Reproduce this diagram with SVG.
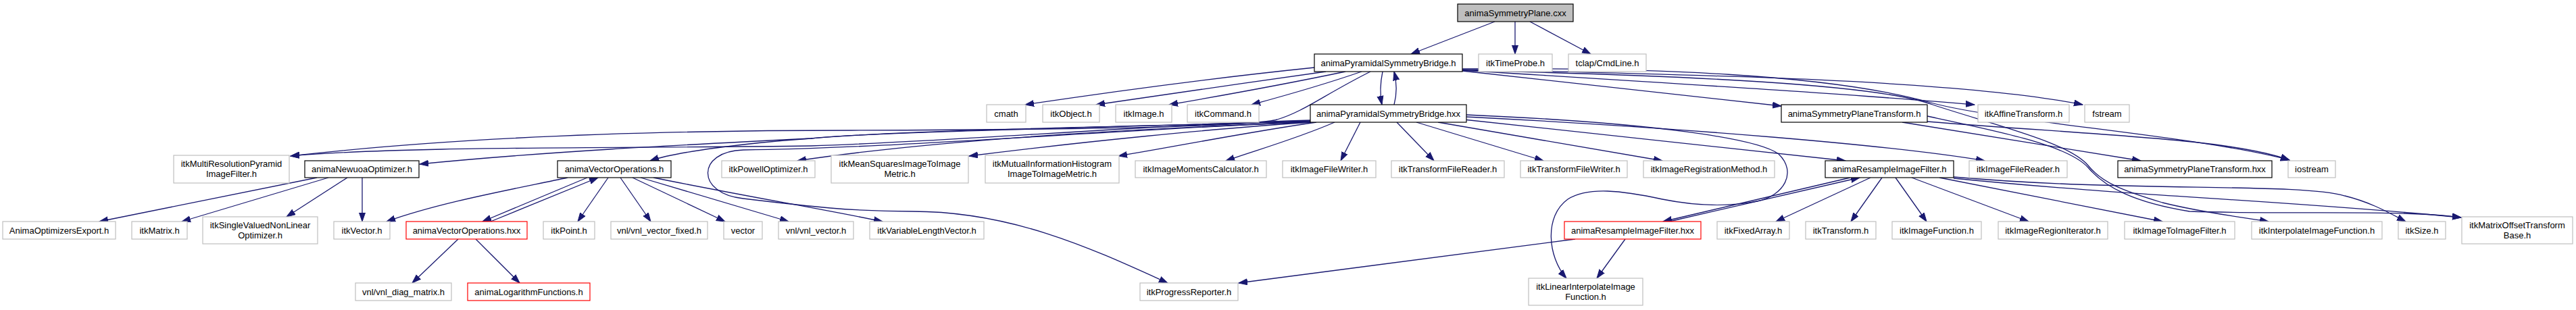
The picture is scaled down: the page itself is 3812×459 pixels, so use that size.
<svg xmlns="http://www.w3.org/2000/svg" width="3812" height="459" viewBox="0 0 3812 459">
<style>
.n rect{fill:#fff;stroke:#bfbfbf;stroke-width:1.2}
.d rect{stroke:#000}
.r rect{stroke:#f00}
.t rect{fill:#bfbfbf;stroke:#000}
text{font-family:"Liberation Sans",Arial,Helvetica,sans-serif;font-size:13px;text-anchor:middle;fill:#000}
.e path{fill:none;stroke:#191970;stroke-width:1.3;marker-end:url(#a)}
</style>
<defs>
<marker id="a" markerUnits="userSpaceOnUse" markerWidth="14" markerHeight="11" refX="13" refY="5" orient="auto">
<path d="M0,0.5 L13,5 L0,9.5 z" fill="#191970" stroke="#191970" stroke-width="1"/>
</marker>
</defs>
<rect width="3812" height="459" fill="#fff"/>
<g class="e" id="edges">
<path d="M2212,32 L2088,80"/>
<path d="M2242,32 L2242,80"/>
<path d="M2264,32 L2354,80"/>
<path d="M1945,100 C1800,115 1650,135 1517,155"/>
<path d="M1962,106 C1850,122 1720,140 1622,155"/>
<path d="M1991,106 C1900,125 1800,143 1730,155"/>
<path d="M2015,106 C1960,125 1900,142 1852,155"/>
<path d="M2028,106 C1960,140 1930,165 1890,177 C1850,188 1600,192 1260,193 C1000,193 700,200 430,231"/>
<path d="M2046,106 C2042,125 2042,140 2045,155"/>
<path d="M2063,155 C2067,140 2067,122 2063,106"/>
<path d="M2164,105 L2636,157"/>
<path d="M2164,104 C2500,125 2750,140 2922,155"/>
<path d="M2164,103 C2500,110 2900,118 3082,155"/>
<path d="M2164,102 C2450,100 2700,110 2850,150 C2950,180 3250,200 3388,237"/>
<path d="M2164,104 C2500,112 2780,125 2860,155 C2950,185 3060,210 3090,245 C3110,270 3140,282 3200,300 C3260,315 3320,322 3357,328"/>
<path d="M1939,178 C1700,185 1400,210 1200,216 C900,220 600,216 430,231"/>
<path d="M1939,179 C1600,190 1300,195 1200,205 C1000,215 800,225 621,243"/>
<path d="M1939,180 C1600,188 1300,195 1200,205 C1100,212 1000,225 962,238"/>
<path d="M1939,181 C1700,190 1400,205 1180,238"/>
<path d="M1940,181 C1800,190 1600,210 1434,231"/>
<path d="M1948,181 C1850,195 1750,215 1655,231"/>
<path d="M1975,181 C1920,205 1860,222 1814,238"/>
<path d="M1939,180 C1600,196 1300,220 1100,222 C1030,224 1030,287 1100,294 C1200,306 1260,313 1350,313 C1500,313 1620,370 1728,419"/>
<path d="M2013,181 L1984,238"/>
<path d="M2067,181 L2122,238"/>
<path d="M2096,181 L2284,238"/>
<path d="M2128,181 L2460,238"/>
<path d="M2166,177 L2731,238"/>
<path d="M2170,173 C2500,190 2800,215 2937,238"/>
<path d="M2170,170 C2450,182 2600,205 2632,228 C2660,255 2640,290 2600,298 C2560,306 2510,305 2460,295 C2400,282 2350,276 2320,295 C2285,320 2290,380 2318,412"/>
<path d="M2815,181 L3168,238"/>
<path d="M2852,180 C3100,200 3300,205 3388,237"/>
<path d="M2852,172 C2960,195 3060,215 3090,248 C3115,278 3160,300 3240,313 C3400,318 3550,310 3642,322"/>
<path d="M469,263 L147,328"/>
<path d="M486,263 L269,328"/>
<path d="M514,263 L424,321"/>
<path d="M536,263 L536,328"/>
<path d="M840,263 C750,282 650,300 572,328"/>
<path d="M869,263 L714,328"/>
<path d="M726,328 L885,263"/>
<path d="M900,263 L855,328"/>
<path d="M918,263 L963,328"/>
<path d="M936,263 L1073,328"/>
<path d="M948,263 L1167,328"/>
<path d="M967,263 C1100,290 1220,310 1306,328"/>
<path d="M678,354 L610,419"/>
<path d="M704,354 L769,419"/>
<path d="M2738,263 L2461,328"/>
<path d="M2470,328 L2752,263"/>
<path d="M2768,263 L2628,328"/>
<path d="M2785,263 L2739,328"/>
<path d="M2805,263 L2851,328"/>
<path d="M2829,263 L3002,328"/>
<path d="M2870,263 L3200,328"/>
<path d="M2891,262 C3150,285 3400,270 3470,290 C3510,300 3535,315 3560,328"/>
<path d="M2891,264 C3150,290 3400,298 3642,322"/>
<path d="M2331,354 L1833,419"/>
<path d="M2405,354 L2363,412"/>
</g>
<g id="n0" class="n t"><rect x="2157" y="6" width="171" height="26"/><text x="2242.5" y="23.5">animaSymmetryPlane.cxx</text></g>
<g id="n1" class="n d"><rect x="1945" y="80" width="219" height="26"/><text x="2054.5" y="97.5">animaPyramidalSymmetryBridge.h</text></g>
<g id="n2" class="n"><rect x="2188" y="80" width="109" height="26"/><text x="2242.5" y="97.5">itkTimeProbe.h</text></g>
<g id="n3" class="n"><rect x="2321" y="80" width="115" height="26"/><text x="2378.5" y="97.5">tclap/CmdLine.h</text></g>
<g id="n4" class="n"><rect x="1460" y="155" width="58" height="26"/><text x="1489" y="172.5">cmath</text></g>
<g id="n5" class="n"><rect x="1543" y="155" width="84" height="26"/><text x="1585" y="172.5">itkObject.h</text></g>
<g id="n6" class="n"><rect x="1651" y="155" width="83" height="26"/><text x="1692.5" y="172.5">itkImage.h</text></g>
<g id="n7" class="n"><rect x="1757" y="155" width="106" height="26"/><text x="1810" y="172.5">itkCommand.h</text></g>
<g id="n8" class="n d"><rect x="1939" y="155" width="231" height="26"/><text x="2054.5" y="172.5">animaPyramidalSymmetryBridge.hxx</text></g>
<g id="n9" class="n d"><rect x="2636" y="155" width="216" height="26"/><text x="2744" y="172.5">animaSymmetryPlaneTransform.h</text></g>
<g id="n10" class="n"><rect x="2927" y="155" width="135" height="26"/><text x="2994.5" y="172.5">itkAffineTransform.h</text></g>
<g id="n11" class="n"><rect x="3085" y="155" width="66" height="26"/><text x="3118" y="172.5">fstream</text></g>
<g id="n12" class="n"><rect x="257" y="230" width="171" height="41"/><text x="342.5" y="247">itkMultiResolutionPyramid</text><text x="342.5" y="262">ImageFilter.h</text></g>
<g id="n13" class="n d"><rect x="451" y="238" width="169" height="25"/><text x="535.5" y="255">animaNewuoaOptimizer.h</text></g>
<g id="n14" class="n d"><rect x="825" y="238" width="168" height="25"/><text x="909" y="255">animaVectorOperations.h</text></g>
<g id="n15" class="n"><rect x="1068" y="238" width="138" height="25"/><text x="1137" y="255">itkPowellOptimizer.h</text></g>
<g id="n16" class="n"><rect x="1230" y="230" width="203" height="41"/><text x="1331.5" y="247">itkMeanSquaresImageToImage</text><text x="1331.5" y="262">Metric.h</text></g>
<g id="n17" class="n"><rect x="1458" y="230" width="198" height="41"/><text x="1557" y="247">itkMutualInformationHistogram</text><text x="1557" y="262">ImageToImageMetric.h</text></g>
<g id="n18" class="n"><rect x="1680" y="238" width="194" height="25"/><text x="1777" y="255">itkImageMomentsCalculator.h</text></g>
<g id="n19" class="n"><rect x="1898" y="238" width="138" height="25"/><text x="1967" y="255">itkImageFileWriter.h</text></g>
<g id="n20" class="n"><rect x="2059" y="238" width="167" height="25"/><text x="2142.5" y="255">itkTransformFileReader.h</text></g>
<g id="n21" class="n"><rect x="2250" y="238" width="158" height="25"/><text x="2329" y="255">itkTransformFileWriter.h</text></g>
<g id="n22" class="n"><rect x="2432" y="238" width="194" height="25"/><text x="2529" y="255">itkImageRegistrationMethod.h</text></g>
<g id="n23" class="n d"><rect x="2701" y="238" width="190" height="25"/><text x="2796" y="255">animaResampleImageFilter.h</text></g>
<g id="n24" class="n"><rect x="2914" y="238" width="145" height="25"/><text x="2986.5" y="255">itkImageFileReader.h</text></g>
<g id="n25" class="n d"><rect x="3134" y="238" width="228" height="25"/><text x="3248" y="255">animaSymmetryPlaneTransform.hxx</text></g>
<g id="n26" class="n"><rect x="3386" y="238" width="70" height="25"/><text x="3421" y="255">iostream</text></g>
<g id="n27" class="n"><rect x="4" y="328" width="167" height="26"/><text x="87.5" y="345.5">AnimaOptimizersExport.h</text></g>
<g id="n28" class="n"><rect x="195" y="328" width="82" height="26"/><text x="236" y="345.5">itkMatrix.h</text></g>
<g id="n29" class="n"><rect x="300" y="321" width="170" height="40"/><text x="385" y="338">itkSingleValuedNonLinear</text><text x="385" y="353">Optimizer.h</text></g>
<g id="n30" class="n"><rect x="494" y="328" width="83" height="26"/><text x="535.5" y="345.5">itkVector.h</text></g>
<g id="n31" class="n r"><rect x="601" y="328" width="179" height="26"/><text x="690.5" y="345.5">animaVectorOperations.hxx</text></g>
<g id="n32" class="n"><rect x="804" y="328" width="76" height="26"/><text x="842" y="345.5">itkPoint.h</text></g>
<g id="n33" class="n"><rect x="904" y="328" width="143" height="26"/><text x="975.5" y="345.5">vnl/vnl_vector_fixed.h</text></g>
<g id="n34" class="n"><rect x="1071" y="328" width="57" height="26"/><text x="1099.5" y="345.5">vector</text></g>
<g id="n35" class="n"><rect x="1152" y="328" width="111" height="26"/><text x="1207.5" y="345.5">vnl/vnl_vector.h</text></g>
<g id="n36" class="n"><rect x="1287" y="328" width="169" height="26"/><text x="1371.5" y="345.5">itkVariableLengthVector.h</text></g>
<g id="n37" class="n r"><rect x="2315" y="328" width="202" height="26"/><text x="2416" y="345.5">animaResampleImageFilter.hxx</text></g>
<g id="n38" class="n"><rect x="2541" y="328" width="107" height="26"/><text x="2594.5" y="345.5">itkFixedArray.h</text></g>
<g id="n39" class="n"><rect x="2672" y="328" width="104" height="26"/><text x="2724" y="345.5">itkTransform.h</text></g>
<g id="n40" class="n"><rect x="2800" y="328" width="132" height="26"/><text x="2866" y="345.5">itkImageFunction.h</text></g>
<g id="n41" class="n"><rect x="2957" y="328" width="162" height="26"/><text x="3038" y="345.5">itkImageRegionIterator.h</text></g>
<g id="n42" class="n"><rect x="3144" y="328" width="163" height="26"/><text x="3225.5" y="345.5">itkImageToImageFilter.h</text></g>
<g id="n43" class="n"><rect x="3332" y="328" width="193" height="26"/><text x="3428.5" y="345.5">itkInterpolateImageFunction.h</text></g>
<g id="n44" class="n"><rect x="3549" y="328" width="70" height="26"/><text x="3584" y="345.5">itkSize.h</text></g>
<g id="n45" class="n"><rect x="3643" y="321" width="164" height="40"/><text x="3725" y="338">itkMatrixOffsetTransform</text><text x="3725" y="353">Base.h</text></g>
<g id="n46" class="n"><rect x="526" y="419" width="142" height="26"/><text x="597" y="436.5">vnl/vnl_diag_matrix.h</text></g>
<g id="n47" class="n r"><rect x="692" y="419" width="181" height="26"/><text x="782.5" y="436.5">animaLogarithmFunctions.h</text></g>
<g id="n48" class="n"><rect x="1687" y="419" width="145" height="26"/><text x="1759.5" y="436.5">itkProgressReporter.h</text></g>
<g id="n49" class="n"><rect x="2262" y="412" width="169" height="40"/><text x="2346.5" y="429">itkLinearInterpolateImage</text><text x="2346.5" y="444">Function.h</text></g>
</svg>
